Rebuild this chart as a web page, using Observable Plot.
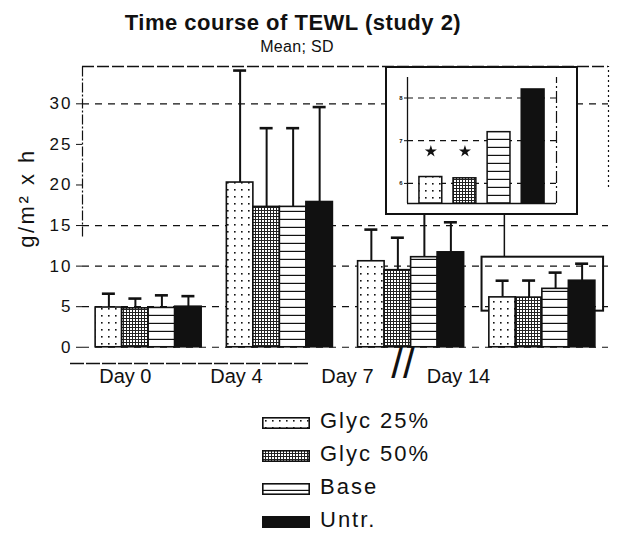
<!DOCTYPE html>
<html>
<head>
<meta charset="utf-8">
<script src="https://cdn.jsdelivr.net/npm/d3@7"></script>
<script src="https://cdn.jsdelivr.net/npm/@observablehq/plot@0.6"></script>
<style>
  body { margin: 0; background: #fff; font-family: "Liberation Sans", Arial, sans-serif; color: #111; }
  #wrap { position: relative; width: 619px; height: 533px; overflow: hidden; background: #fff; }
  #title { position: absolute; left: 0; top: 12px; width: 586px; text-align: center; font-size: 22px; line-height: 22px; font-weight: bold; letter-spacing: 0.5px; }
  #subtitle { position: absolute; left: 0; top: 39px; width: 594px; text-align: center; font-size: 16px; line-height: 16px; letter-spacing: 0.3px; }
  #ylabel { position: absolute; left: 27px; top: 197.5px; transform: translate(-50%, -50%) rotate(-90deg); font-size: 22px; line-height: 22px; letter-spacing: 2.5px; white-space: nowrap; }
  #main { position: absolute; left: 0; top: 60px; }
  #main svg, #inset svg { display: block; overflow: visible; }
  #inset { position: absolute; left: 385px; top: 66px; width: 193px; height: 149px; box-sizing: border-box; border: 2px solid #111; background: #fff; }
  .lrow-sw { position: absolute; left: 262px; }
  .lrow-tx { position: absolute; left: 320px; font-size: 22px; line-height: 22px; letter-spacing: 2px; white-space: nowrap; }
</style>
</head>
<body>
<svg width="0" height="0" style="position:absolute">
  <defs>
    <pattern id="pDots" width="7" height="7" patternUnits="userSpaceOnUse">
      <rect width="7" height="7" fill="#fff"/>
      <rect x="3" y="3" width="1.6" height="1.6" fill="#111"/>
    </pattern>
    <pattern id="pGrid" width="3" height="3" patternUnits="userSpaceOnUse">
      <rect width="3" height="3" fill="#fff"/>
      <rect width="3" height="1" fill="#222"/>
      <rect width="1" height="3" fill="#222"/>
    </pattern>
    <pattern id="pLines" width="8" height="8" patternUnits="userSpaceOnUse">
      <rect width="8" height="8" fill="#fff"/>
      <rect y="6.8" width="8" height="1.2" fill="#111"/>
    </pattern>
  </defs>
</svg>
<div id="wrap">
  <div id="title">Time course of TEWL (study 2)</div>
  <div id="subtitle">Mean; SD</div>
  <div id="main"></div>
  <div id="ylabel"></div>
  <div id="inset"></div>
  <div id="legend"></div>
</div>
<script>
// ---- data ----
const days = ["Day 0", "Day 4", "Day 7", "Day 14"];
const series = ["Glyc 25%", "Glyc 50%", "Base", "Untr."];
const meanGlyc25 = [4.9, 20.3, 10.6, 6.15];
const meanGlyc50 = [4.8, 17.3, 9.5, 6.12];
const meanBase   = [4.85, 17.3, 11.1, 7.2];
const meanUntr   = [5.0, 17.9, 11.7, 8.2];
const sdGlyc25 = [1.7, 13.8, 3.9, 2.05];
const sdGlyc50 = [1.2, 9.7, 4.0, 2.1];
const sdBase   = [1.55, 9.7, 5.7, 2.0];
const sdUntr   = [1.3, 11.7, 3.7, 2.1];
const yTicks = [0, 5, 10, 15, 20, 25, 30];
const gridLevels = [0, 5, 10, 15, 30];
const yLabel = "g/m\u00b2 x h";
const zoomedDay = "Day 14";
const zoomRange = [4.45, 11.1];
const insetTicks = [6, 7, 8];
const insetRange = [5.53, 8.48];
const starredSeries = ["Glyc 25%", "Glyc 50%"];
const starLevel = 6.75;

const means = [meanGlyc25, meanGlyc50, meanBase, meanUntr];
const sds = [sdGlyc25, sdGlyc50, sdBase, sdUntr];
const rows = days.flatMap((d, di) => series.map((s, si) => ({day: d, series: s, mean: means[si][di], sd: sds[si][di]})));
const fills = {"Glyc 25%": "url(#pDots)", "Glyc 50%": "url(#pGrid)", "Base": "url(#pLines)", "Untr.": "#111"};

document.getElementById("ylabel").textContent = yLabel;

// ---- main chart ----
const W = 619, H = 335, mL = 82, mR = 11, mT = 6, mB = 32;
const padIn = 0.192, padOut = 0.1;
const step = (W - mL - mR) / (days.length - padIn + 2 * padOut);
const bandW = step * (1 - padIn);
const bw = bandW / series.length;
const edge = bandW / 2 + padOut * step;
const capW = 13;
const yDomain = [-2, 34.6];
const ink = "#111";

const marks = [
  Plot.ruleY(gridLevels, {y: d => d, stroke: ink, strokeWidth: 1.2, strokeDasharray: "7,6"}),
  Plot.ruleY([yDomain[1]], {y: d => d, stroke: ink, strokeWidth: 1.3, strokeDasharray: "12,3"}),
  Plot.ruleX([days[0]], {x: d => d, y1: () => 13.6, y2: () => yDomain[1], dx: -edge, stroke: ink, strokeWidth: 1.2, strokeDasharray: "10,2,2,2"}),
  Plot.ruleX([days[3]], {x: d => d, y1: () => 19.7, y2: () => yDomain[1], dx: edge, stroke: ink, strokeWidth: 1.2, strokeDasharray: "2,3"}),
  Plot.ruleY([yDomain[0]], {y: d => d, stroke: ink, strokeWidth: 1.4, insetLeft: -12, insetRight: 298, strokeDasharray: "14,2"}),
  Plot.barY([{day: zoomedDay}], {x: "day", y1: () => zoomRange[0], y2: () => zoomRange[1], fill: "none", stroke: ink, strokeWidth: 2, insetLeft: -7.3, insetRight: -8.2}),
  Plot.ruleX([zoomedDay], {x: d => d, y1: () => zoomRange[1], y2: () => yDomain[1], dx: -38, stroke: ink, strokeWidth: 1.5})
];
series.forEach((s, i) => {
  const data = rows.filter(r => r.series === s);
  marks.push(Plot.ruleX(data, {x: "day", y1: "mean", y2: d => d.mean + d.sd, dx: (i - 1.5) * bw, stroke: ink, strokeWidth: 2}));
  marks.push(Plot.tickY(data, {x: "day", y: d => d.mean + d.sd, insetLeft: i * bw + (bw - capW) / 2, insetRight: (3 - i) * bw + (bw - capW) / 2, stroke: ink, strokeWidth: 2.6}));
  marks.push(Plot.barY(data, {x: "day", y: "mean", fill: fills[s], stroke: ink, strokeWidth: 1.6, insetLeft: i * bw, insetRight: (3 - i) * bw}));
});
days.forEach((d, i) => {
  marks.push(Plot.text([d], {x: v => v, text: v => v, frameAnchor: "bottom", dy: 19, dx: -23.3 - 20.2 * i, fontSize: 20}));
});
marks.push(Plot.text([zoomedDay], {x: v => v, text: () => "//", frameAnchor: "bottom", dy: 14, dx: -step / 2 - 23.3 - 20.2 * 2.5, fontSize: 42, letterSpacing: -6}));

const main = Plot.plot({
  width: W, height: H, marginLeft: mL, marginRight: mR, marginTop: mT, marginBottom: mB,
  style: {fontFamily: "'Liberation Sans', Arial, sans-serif", fontSize: "17px", color: ink, background: "transparent"},
  x: {domain: days, axis: null, paddingInner: padIn, paddingOuter: padOut, round: false},
  y: {domain: yDomain, ticks: yTicks, tickSize: 6, tickPadding: 4, label: null},
  marks
});
document.getElementById("main").appendChild(main);
d3.select(main).selectAll("text").filter(function() { return /^\d+$/.test(this.textContent); }).style("letter-spacing", "2px");

// ---- inset (zoom of Day 14) ----
const iW = 189, iH = 145, iL = 20, iR = 20, iT = 9, iB = 10;
const iPadIn = 0.33, iPadOut = 0.35;
const iStep = (iW - iL - iR) / (series.length - iPadIn + 2 * iPadOut);
const iEdge = iStep * (1 - iPadIn) / 2 + iPadOut * iStep;
const day14 = rows.filter(r => r.day === zoomedDay);
const insetMarks = [
  Plot.ruleY(insetTicks, {y: d => d, stroke: ink, strokeWidth: 1.2, strokeDasharray: "6,5"}),
  Plot.ruleY([insetRange[0]], {y: d => d, stroke: ink, strokeWidth: 1.5}),
  Plot.ruleX([series[0]], {x: d => d, dx: -iEdge, y1: () => insetRange[0], y2: () => insetRange[1], stroke: ink, strokeWidth: 1.3}),
  Plot.ruleX([series[3]], {x: d => d, dx: iEdge, y1: () => insetRange[0], y2: () => insetRange[1], stroke: ink, strokeWidth: 1.2, strokeDasharray: "12,3,2,3"})
];
series.forEach(s => {
  insetMarks.push(Plot.barY(day14.filter(r => r.series === s), {x: "series", y1: () => insetRange[0], y2: "mean", fill: fills[s], stroke: ink, strokeWidth: 1.5}));
});
insetMarks.push(Plot.dot(starredSeries, {x: d => d, y: () => starLevel, symbol: "star", r: 3.8, fill: ink, stroke: "none"}));
const inset = Plot.plot({
  width: iW, height: iH, marginLeft: iL, marginRight: iR, marginTop: iT, marginBottom: iB,
  style: {fontFamily: "'Liberation Sans', Arial, sans-serif", fontSize: "6px", fontWeight: "bold", color: ink, background: "#fff"},
  x: {domain: series, axis: null, paddingInner: iPadIn, paddingOuter: iPadOut, round: false},
  y: {domain: insetRange, ticks: insetTicks, tickFormat: d3.format("d"), tickSize: 3, tickPadding: 2, label: null},
  marks: insetMarks
});
document.getElementById("inset").appendChild(inset);

// ---- legend ----
const legend = document.getElementById("legend");
const legendTop = 422.5, legendGap = 33;
series.forEach((s, i) => {
  const cy = legendTop + i * legendGap;
  const sw = document.createElementNS("http://www.w3.org/2000/svg", "svg");
  sw.setAttribute("width", 48); sw.setAttribute("height", 12);
  sw.setAttribute("class", "lrow-sw");
  sw.style.top = (cy - 6) + "px";
  const r = document.createElementNS("http://www.w3.org/2000/svg", "rect");
  r.setAttribute("x", 0.8); r.setAttribute("y", 0.8); r.setAttribute("width", 46.4); r.setAttribute("height", 10.4);
  r.setAttribute("fill", fills[s]); r.setAttribute("stroke", ink); r.setAttribute("stroke-width", 1.6);
  sw.appendChild(r);
  legend.appendChild(sw);
  const t = document.createElement("div");
  t.className = "lrow-tx";
  t.style.top = (cy - 1.5 - 10.7) + "px";
  t.textContent = s;
  legend.appendChild(t);
});
</script>
</body>
</html>
